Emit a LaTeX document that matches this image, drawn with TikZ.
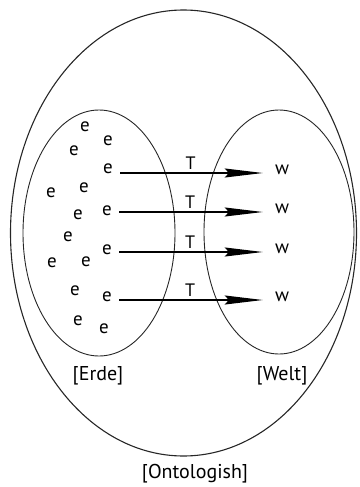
\documentclass[tikz,border=0pt]{standalone}
\usepackage{fontspec}
\setmainfont{PT Sans}
\usetikzlibrary{arrows.meta}
\begin{document}
\begin{tikzpicture}[x=1pt,y=-1pt,
  lbl/.style={font=\fontsize{20}{22}\selectfont, inner sep=1pt},
  tlbl/.style={font=\fontsize{18}{20}\selectfont, inner sep=1pt},
  elem/.style={font=\fontsize{19}{20}\selectfont, inner sep=1pt},
  mapto/.style={line width=1.4pt, -{Stealth[length=38pt,width=9pt,inset=4pt]}, shorten <=6pt, shorten >=11pt},
  ring/.style={line width=0.9pt, draw=black!85}]
\useasboundingbox (0,0) rectangle (359,487);
% ellipses
\draw[ring, line width=1.1pt] (183.5,233) ellipse [x radius=173pt, y radius=223pt];
\draw[ring] (99,233) ellipse [x radius=76pt, y radius=123pt];
\draw[ring] (279,232) ellipse [x radius=75pt, y radius=122pt];
% e elements
\node[elem] (e1) at (85,127) {e};
\node[elem] (e2) at (108,141) {e};
\node[elem] (e3) at (74,151) {e};
\node[elem] (ea) at (108,169) {e};
\node[elem] (e4) at (84,188) {e};
\node[elem] (e5) at (51,193) {e};
\node[elem] (e6) at (78,215) {e};
\node[elem] (eb) at (107,211) {e};
\node[elem] (e7) at (68,237) {e};
\node[elem] (ec) at (107,250) {e};
\node[elem] (e8) at (52,263) {e};
\node[elem] (e9) at (86,262) {e};
\node[elem] (e10) at (75,291) {e};
\node[elem] (ed) at (107,297) {e};
\node[elem] (e11) at (78,321) {e};
\node[elem] (e12) at (104,329) {e};
% w elements
\node[elem] (wa) at (282,170) {w};
\node[elem] (wb) at (282,209) {w};
\node[elem] (wc) at (282,249) {w};
\node[elem] (wd) at (282,297) {w};
% arrows
\draw[mapto] (ea.east |- 0,173) -- (wa.west |- 0,173) node[tlbl, pos=0.48, above=2pt] (ta) {T};
\draw[mapto] (eb.east |- 0,212) -- (wb.west |- 0,212) node[tlbl, pos=0.48, above=2pt] (tb) {T};
\draw[mapto] (ec.east |- 0,252) -- (wc.west |- 0,252) node[tlbl, pos=0.48, above=2pt] (tc) {T};
\draw[mapto] (ed.east |- 0,300) -- (wd.west |- 0,300) node[tlbl, pos=0.48, above=2pt] (td) {T};
% labels
\node[lbl] (erde) at (98,376) {[Erde]};
\node[lbl] (welt) at (282,376) {[Welt]};
\node[lbl] (onto) at (195,474) {[Ontologish]};
\end{tikzpicture}
\end{document}
